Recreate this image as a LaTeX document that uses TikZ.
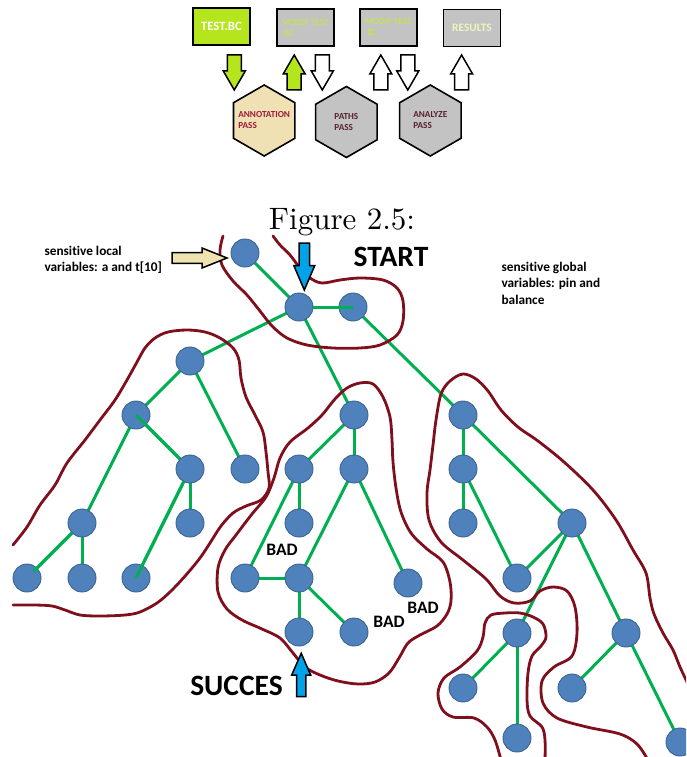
\documentclass[tikz,border=0pt]{standalone}
\usepackage{fontspec}
\newfontfamily\calibri{Carlito}[Ligatures=NoCommon]
\newfontfamily\capfont{lmroman10-regular}[Extension=.otf]
\usetikzlibrary{shapes.geometric}

\definecolor{nodeblue}{HTML}{4F81BD}
\definecolor{nodeline}{HTML}{3B6390}
\definecolor{edgegreen}{HTML}{00B050}
\definecolor{boundred}{HTML}{800F1E}
\definecolor{limegreen}{HTML}{B5E61D}
\definecolor{boxgray}{HTML}{C3C3C3}
\definecolor{hexcream}{HTML}{F0E1B4}
\definecolor{skyblue}{HTML}{00A2E8}
\definecolor{arrowcream}{HTML}{EFE4B0}
\definecolor{modiftext}{HTML}{C4EA3A}
\definecolor{resulttext}{HTML}{EAF6BE}
\definecolor{passred}{HTML}{9B1B3A}
\definecolor{passbrown}{HTML}{5A2030}

\tikzset{
  % block arrow pointing along +y: half length, head length, half width, shaft half width
  pics/blockarrow/.style n args={4}{code={
    \path[pic actions] ({-#4},{-#1}) -- ({#4},{-#1}) -- ({#4},{#1-#2}) -- ({#3},{#1-#2})
      -- (0,{#1}) -- ({-#3},{#1-#2}) -- ({-#4},{#1-#2}) -- cycle;
  }},
  vertex/.style={circle, fill=nodeblue, draw=nodeline, line width=0.9pt,
    minimum size=28pt, inner sep=0pt},
  edge/.style={draw=edgegreen, line width=3pt},
  bound/.style={draw=boundred, line width=2.8pt, line cap=round, line join=round},
  filebox/.style={rectangle, draw=black, line width=1.8pt, minimum width=57pt,
    minimum height=37pt, inner sep=0pt},
  passhex/.style={regular polygon, regular polygon sides=6, shape border rotate=30,
    draw=black, line width=1.6pt, minimum size=71pt, inner sep=0pt},
  passtext/.style={align=left, inner sep=0pt,
    font=\calibri\bfseries\fontsize{9.2}{11}\selectfont},
  flowarrow/.style={draw=black, line width=1.5pt, line join=miter},
  badlabel/.style={font=\calibri\bfseries\fontsize{17.5}{20}\selectfont},
  biglabel/.style={font=\calibri\bfseries\fontsize{29.5}{34}\selectfont},
  note/.style={font=\calibri\bfseries\fontsize{13.3}{16.4}\selectfont, align=left, anchor=west},
}

\begin{document}
\begin{tikzpicture}[x=1pt,y=-1pt]
\useasboundingbox (0,0) rectangle (686,757);
\clip (0,0) rectangle (686,757);

% ---------- compiler passes ----------
\node[filebox, fill=limegreen, minimum width=57.5pt, text=white,
  font=\calibri\bfseries\fontsize{12.7}{14}\selectfont] (testbc) at (221.4,26.7) {TEST.BC};
\node[filebox, fill=boxgray, align=left, text=modiftext,
  font=\calibri\fontsize{9.4}{11}\selectfont] (modif1) at (305.3,27.5) {MODIF TEST\\.BC};
\node[filebox, fill=boxgray, align=left, text=modiftext,
  font=\calibri\fontsize{9.4}{11}\selectfont] (modif2) at (388.3,27.2) {MODIF TEST\\.BC};
\node[filebox, fill=boxgray, text=resulttext,
  font=\calibri\bfseries\fontsize{11.4}{13}\selectfont] (results) at (472,28) {RESULTS};

\pic[flowarrow, fill=limegreen] at (234.3,72.5) {blockarrow={17.5}{19}{11}{7}};
\pic[flowarrow, fill=limegreen, rotate=180] at (294.2,72.5) {blockarrow={17.5}{19}{11}{7}};
\pic[flowarrow, fill=white] at (322.3,72.5) {blockarrow={17.5}{19}{11}{7}};
\pic[flowarrow, fill=white, rotate=180] at (380.8,72.5) {blockarrow={17.5}{19}{11}{7}};
\pic[flowarrow, fill=white] at (407.8,72.5) {blockarrow={17.5}{19}{11}{7}};
\pic[flowarrow, fill=white, rotate=180] at (461.6,72.5) {blockarrow={17.5}{19}{11}{7}};

\node[passhex, fill=hexcream] (annot) at (264.2,120.5) {};
\node[passhex, fill=boxgray] (paths) at (346.4,122) {};
\node[passhex, fill=boxgray] (analyze) at (430.3,120.5) {};
\node[passtext, text=passred] (annotlbl) at (annot.center) {ANNOTATION\\PASS};
\node[passtext, text=passbrown] (pathslbl) at (paths.center) {PATHS\\PASS};
\node[passtext, text=passbrown] (analyzelbl) at (analyze.center) {ANALYZE\\PASS};

\node[font=\capfont\fontsize{31}{36}\selectfont, anchor=base] (caption) at (342,229) {Figure 2.5:};

% ---------- execution tree ----------
\foreach \n/\p in {
  s0/{245,253}, s1/{299,307}, s2/{353,307},
  L0/{190,361}, L1/{136,415}, L2/{190,469}, L3/{245,469}, L4/{82,523}, L5/{190,523},
  L6/{27,578}, L7/{82,578}, L8/{136,578},
  M0/{354,415}, M1/{299,469}, M2/{354,469}, M3/{299,523}, M4/{245,578}, M5/{299,578},
  M6/{408,583}, M7/{299,632}, M8/{354,632},
  R0/{463,415}, R1/{463,469}, R2/{463,523}, R3/{572,523}, R4/{517,578}, R5/{517,633},
  R6/{626,633}, R7/{463,688}, R8/{572,688}, R9/{517,738}, R10/{680,742}}
  \coordinate (p\n) at (\p);

% edges, centre to centre, under the vertices
\foreach \a/\b in {s0/s1, s1/s2, s1/L0, s1/M0, s2/R0,
  L0/L1, L0/L3, L1/L2, L1/L4, L2/L5, L2/L8, L4/L6, L4/L7,
  M0/M1, M0/M2, M1/M3, M1/M4, M2/M5, M2/M6, M4/M5, M5/M7, M5/M8,
  R0/R1, R0/R3, R1/R2, R1/R4, R3/R4, R3/R5, R3/R6, R6/R8, R6/R10, R5/R7, R5/R9}
  \draw[edge] (p\a) -- (p\b);

% vertices
\foreach \n in {s0, s1, s2, L0, L1, L2, L3, L4, L5, L6, L7, L8,
  M0, M1, M2, M3, M4, M5, M6, M7, M8,
  R0, R1, R2, R3, R4, R5, R6, R7, R8, R9, R10}
  \node[vertex] (\n) at (p\n) {};

% a few edges run on into the vertex they reach
\draw[edge] (s1) -- (s2.center);
\draw[edge] (L1.center) -- (L2);
\draw[edge] (L2) -- (L8.center);
\draw[edge, shorten >=9pt] (L4) -- (L6.center);

% ---------- regions ----------
% start region
\draw[bound] plot[smooth, tension=0.55] coordinates {
  (223,236) (220,250) (222,265) (233,281) (247,295) (260,311) (272,326) (287,338)
  (307,345) (333,348) (360,348) (380,345) (397,335) (403,321) (403,301) (397,288)
  (383,280) (360,278) (340,280) (322,283) (310,278) (300,268) (290,255) (280,245) (273,236)};
% left region
\draw[bound] plot[smooth, tension=0.55] coordinates {
  (13,545) (27,527) (40,505) (55,485) (67,463) (85,440) (100,420) (115,400) (127,380)
  (137,362) (145,348) (155,338) (168,332) (187,330) (205,332) (220,338) (233,348)
  (239,360) (241,378) (246,397) (255,415) (263,432) (266,452) (268,472) (269,488)
  (261,500) (246,506) (233,513) (221,526) (210,543) (200,558) (186,575) (171,591)
  (157,603) (140,612) (125,615) (100,616) (80,615) (65,610) (52,606) (35,605) (13,605)};
% middle region
\draw[bound] plot[smooth cycle, tension=0.55] coordinates {
  (347,388) (360,383) (373,384) (383,397) (390,417) (392,440) (393,462) (396,488)
  (401,512) (411,533) (427,549) (443,562) (450,582) (451,601) (447,614) (437,626)
  (420,635) (408,643) (399,658) (389,673) (375,682) (358,684) (338,681) (320,675)
  (305,667) (293,653) (280,638) (262,629) (242,620) (227,609) (218,592) (218,568)
  (225,550) (236,535) (252,514) (266,497) (274,478) (280,458) (290,442) (308,428)
  (322,415) (335,399)};
% right region
\draw[bound] plot[smooth, tension=0.55] coordinates {
  (688,684) (680,667) (673,650) (663,633) (654,614) (650,598) (646,573) (633,550)
  (616,520) (593,490) (564,462) (538,441) (518,427) (501,410) (488,391) (476,379)
  (463,374) (450,381) (441,394) (436,420) (433,445) (430,470) (427,493) (429,520)
  (441,542) (463,560) (486,579) (500,596) (514,603) (530,601) (540,591) (553,587)
  (567,591) (575,607) (577,633) (572,656) (554,667) (542,681) (543,703) (557,718)
  (587,727) (620,734) (637,744) (648,760)};
% success region
\draw[bound] plot[smooth, tension=0.55] coordinates {
  (501,760) (495,740) (487,727) (474,718) (453,717) (442,709) (438,693) (444,678)
  (460,667) (477,651) (483,637) (485,623) (491,615) (505,613) (520,613) (533,617)
  (543,624) (546,637) (541,646) (532,656) (528,673) (527,700) (530,716) (542,727)
  (545,740) (545,760)};

% ---------- markers and notes ----------
\pic[flowarrow, fill=skyblue] at (304.3,266.5) {blockarrow={23.5}{24.5}{10.5}{5.3}};
\pic[flowarrow, fill=skyblue, rotate=180] at (301.2,675) {blockarrow={21.7}{21.7}{9.5}{4.7}};
\pic[flowarrow, fill=arrowcream, rotate=90] at (199.5,258) {blockarrow={27.5}{25}{10}{5.3}};

\node[biglabel] (start) at (391,257) {START};
\node[biglabel] (succes) at (236.5,686) {SUCCES};
\node[badlabel] (bad1) at (282,550) {BAD};
\node[badlabel] (bad2) at (389,622) {BAD};
\node[badlabel] (bad3) at (423,608) {BAD};

\node[note] (localvars) at (41,260) {sensitive local\\variables: a and t[10]};
\node[note] (globalvars) at (498,283) {sensitive global\\variables: pin and\\balance};
\end{tikzpicture}
\end{document}
